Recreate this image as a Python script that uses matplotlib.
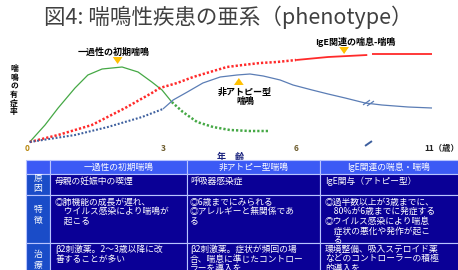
import numpy as np
import matplotlib.pyplot as plt
from matplotlib.patches import Rectangle
from matplotlib.transforms import ScaledTranslation

plt.rcParams['font.family'] = ['Noto Sans CJK JP', 'DejaVu Sans']

# --- 曲線データ (年齢, 有症率の相対値) ---
early_age = [0, 0.345, 0.64, 1.02, 1.31, 1.63, 2.08, 2.44, 2.75, 2.98, 3.20]
early_val = [0, 17, 34, 54, 67, 73, 75, 70, 60, 52, 40]
early_tail_age = [3.20, 3.45, 3.77, 4.13, 4.51, 4.96, 5.37]
early_tail_val = [40, 30, 20, 15, 12, 11, 11]

ige_pre_age = [0, 0.64, 1.40, 2.15, 2.75, 2.93, 3.32, 3.68, 4.06, 4.44, 4.80, 5.19, 5.57, 6.0]
ige_pre_val = [0, 7, 17, 34, 49, 54, 59, 65, 70, 75, 77, 79, 80, 82]
ige_a_age = [6.0, 7.20, 8.67]
ige_a_val = [82, 85, 87]
ige_b_age = [8.85, 9.72, 11.1]
ige_b_val = [88, 88, 88]

nonatopic_pre_age = [0, 1.02, 1.76, 2.53, 3.0]
nonatopic_pre_val = [0, 7, 15, 25, 33]
nonatopic_age = [3.0, 3.23, 3.55, 3.90, 4.29, 4.67, 4.96, 5.26, 5.64, 5.93,
                 6.60, 7.20, 7.84, 8.59, 9.22, 10.2, 11.1]
nonatopic_val = [33, 42, 50, 59, 65, 67, 68, 66, 62, 57,
                 52, 48, 44, 39, 37, 35, 34]

tick_ages = [0, 3, 6, 11]
tick_labels = ['0', '3', '6', '11（歳）']
break_age = 8.7

# --- 表データ ---
col_headers = ['一過性の初期喘鳴', '非アトピー型喘鳴', 'IgE関連の喘息・喘鳴']
row_headers = ['原\n因', '特\n徴', '治\n療']
cause = ['母親の妊娠中の喫煙', '呼吸器感染症', 'IgE関与（アトピー型）']
feature = ['◎肺機能の成長が遅れ、\n　ウイルス感染により喘鳴が\n　起こる',
           '◎6歳までにみられる\n◎アレルギーと無関係であ\nる',
           '◎過半数以上が3歳までに、\n　80%が6歳までに発症する\n◎ウイルス感染により喘息\n　症状の悪化や発作が起こ\n　る']
treatment = ['β2刺激薬。2～3歳以降に改\n善することが多い',
             'β2刺激薬。症状が頻回の場\n合、喘息に準じたコントロー\nラーを導入を',
             '環境整備、吸入ステロイド薬\nなどのコントローラーの積極\n的導入を']


def fwd(x):
    x = np.asarray(x, dtype=float)
    return np.where(x <= 6, x, 6 + (x - 6) * 0.6)


def inv(d):
    d = np.asarray(d, dtype=float)
    return np.where(d <= 6, d, 6 + (d - 6) / 0.6)


fig = plt.figure(figsize=(4.58, 2.70), dpi=100)

fig.text(228.5 / 458, 1 - 17 / 270, '図4: 喘鳴性疾患の亜系（phenotype）',
         ha='center', va='center', fontsize=15.5, color='#404040')

ax = fig.add_axes([29.7 / 458, 128 / 270, 402.3 / 458, 100 / 270])
ax.set_xscale('function', functions=(fwd, inv))
ax.set_xlim(0, 11.1)
ax.set_ylim(0, 100)
for s in ax.spines.values():
    s.set_visible(False)

green, red = '#45a845', '#ff2a2a'
blue_dot, blue = '#3d5f9e', '#5b7db5'
kw = dict(clip_on=False, solid_capstyle='butt')
ax.plot(early_age, early_val, color=green, lw=0.9, **kw)
ax.plot(early_tail_age, early_tail_val, color=green, lw=1.8, ls=(0, (0.9, 0.8)), clip_on=False)
ax.plot(ige_pre_age, ige_pre_val, color=red, lw=1.8, ls=(0, (0.9, 0.8)), clip_on=False)
ax.plot(ige_a_age, ige_a_val, color=red, lw=1.3, **kw)
ax.plot(ige_b_age, ige_b_val, color=red, lw=1.3, **kw)
ax.plot(nonatopic_pre_age, nonatopic_pre_val, color=blue_dot, lw=1.5, ls=(0, (0.9, 0.9)), clip_on=False)
ax.plot(nonatopic_age, nonatopic_val, color=blue, lw=0.9, **kw)

# 軸の省略記号
slash = [(-1, -0.7), (1, 0.7)]
ax.plot([break_age - 0.07, break_age + 0.07], [39.6, 38.9], ls='none', marker=slash,
        ms=5, mew=0.9, color=blue, clip_on=False)
ax.plot([break_age], [-0.5], ls='none', marker=slash, ms=5, mew=1.4, color=blue_dot, clip_on=False)

ax.set_xticks(tick_ages)
ax.set_xticklabels(tick_labels, fontsize=6, fontweight='bold')
ax.set_yticks([])
ax.tick_params(axis='x', length=0, pad=1.5)
tick_colors = ['#b8860b', '#6b5a2a', '#6b5a2a', '#222222']
for lab, c in zip(ax.get_xticklabels(), tick_colors):
    lab.set_color(c)
ax.get_xticklabels()[0].set_transform(ax.get_xticklabels()[0].get_transform()
                                      + ScaledTranslation(-3 / 100, 0, fig.dpi_scale_trans))
last = ax.get_xticklabels()[-1]
last.set_horizontalalignment('left')
last.set_transform(last.get_transform() + ScaledTranslation(-5 / 100, 0, fig.dpi_scale_trans))

ax.set_xlabel('年　齢', fontsize=6.5, fontweight='bold', color='#1a237e', labelpad=0)

# 注記
ann = dict(fontsize=6.5, fontweight='bold', color='black', ha='center', va='center')
ax.text(1.88, 90, '一過性の初期喘鳴', **ann)
ax.text(8.22, 100, 'IgE関連の喘息-喘鳴', **ann)
ax.text(4.85, 45.5, '非アトピー型\n喘鳴', linespacing=1.0, **ann)

arrow = dict(arrowstyle='simple,head_width=0.7,head_length=0.5,tail_width=0.35',
             color='#ffc000', lw=0, shrinkA=0, shrinkB=0)
ax.annotate('', xy=(1.98, 78), xytext=(1.98, 85), arrowprops=arrow, annotation_clip=False)
ax.annotate('', xy=(7.8, 88), xytext=(7.8, 95), arrowprops=arrow, annotation_clip=False)
ax.annotate('', xy=(4.71, 64), xytext=(4.71, 57), arrowprops=arrow, annotation_clip=False)

fig.text(14 / 458, 1 - 90 / 270, '喘\n鳴\nの\n有\n症\n率', ha='center', va='center',
         fontsize=5.6, fontweight='bold', linespacing=0.95)

# --- 表 ---
tax = fig.add_axes([0, 0, 1, 1])
tax.set_xlim(0, 458)
tax.set_ylim(270, 0)
tax.axis('off')

col_edges = [26, 50, 187, 320, 470]
row_edges = [160, 174, 195, 243, 300]
header_bg, side_bg, body_bg = '#3c5af5', '#1a4cc8', '#0a0096'
for r in range(4):
    for c in range(4):
        if r == 0:
            fc = header_bg
        elif c == 0:
            fc = side_bg
        else:
            fc = body_bg
        tax.add_patch(Rectangle((col_edges[c], row_edges[r]),
                                col_edges[c + 1] - col_edges[c], row_edges[r + 1] - row_edges[r],
                                facecolor=fc, edgecolor='#b8c4ff', lw=0.8))

cell = dict(color='white', fontsize=6.3, linespacing=1.1)
for c, h in enumerate(col_headers):
    tax.text((col_edges[c + 1] + col_edges[c + 2]) / 2 if c < 2 else 389, 167, h,
             ha='center', va='center', **cell)
for yc, h in zip([183.5, 215, 260], row_headers):
    tax.text(38, yc, h, ha='center', va='center', color='white', fontsize=6.3, linespacing=1.25)

text_x = [55, 190, 325]
for row_top, texts in zip([176.5, 197.5, 244.5], [cause, feature, treatment]):
    for x, t in zip(text_x, texts):
        tax.text(x, row_top, t, ha='left', va='top', **cell)

fig.savefig('out.png', dpi=100)
